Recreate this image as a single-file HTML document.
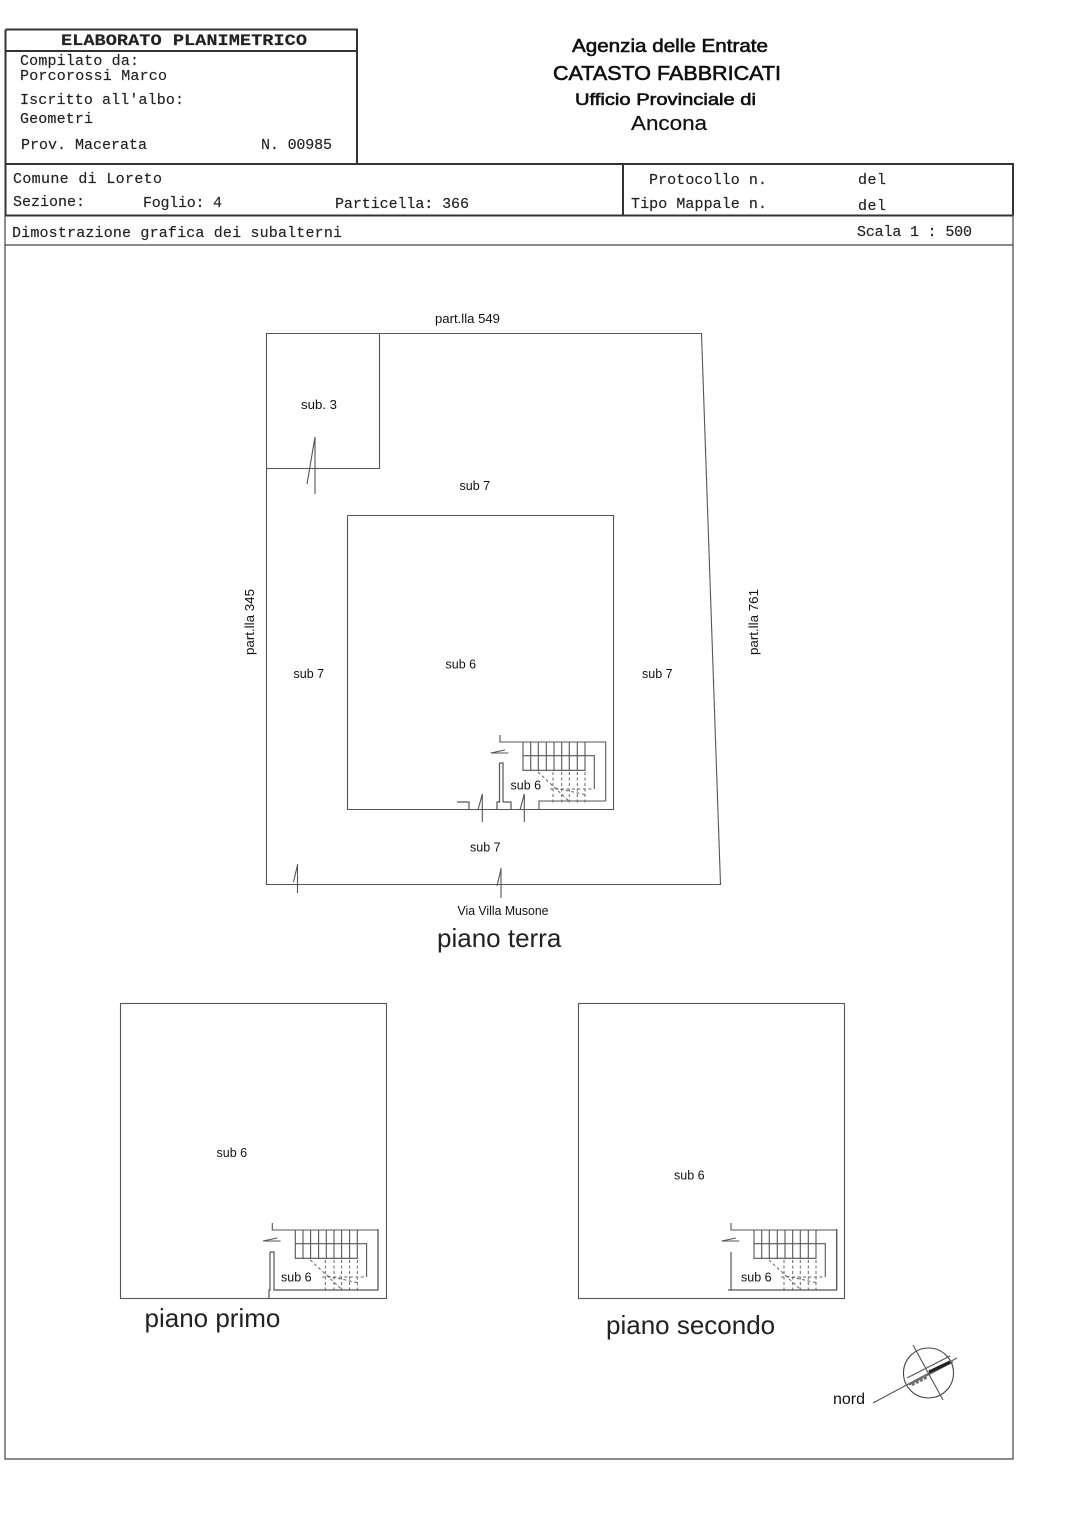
<!DOCTYPE html>
<html><head><meta charset="utf-8"><style>
html,body{margin:0;padding:0;background:#fff}
svg{display:block}
.m{font-family:"Liberation Mono",monospace;font-size:15px;fill:#222;stroke:#222;stroke-width:.15}
.s{font-family:"Liberation Sans",sans-serif;font-size:12.5px;fill:#111}
.h{font-family:"Liberation Sans",sans-serif;fill:#111;stroke:#111;stroke-width:.6}
.big{font-family:"Liberation Sans",sans-serif;font-size:26px;fill:#222}
.l{fill:none;stroke:#555;stroke-width:1.1}
.d{fill:none;stroke:#666;stroke-width:1;stroke-dasharray:3 2.5}
.f{fill:none;stroke:#333;stroke-width:2}
.t{fill:none;stroke:#555;stroke-width:1.2}
</style></head><body>
<svg width="1085" height="1535" viewBox="0 0 1085 1535" xmlns="http://www.w3.org/2000/svg">
<defs>
<g id="stair">
 <path class="l" d="M523 742V771M530.7 742V771M538.3 742V771M546.3 742V771M554 742V771M561.7 742V771M569.3 742V771M577.3 742V771M585 742V771"/>
 <path class="l" d="M523 755.7H594.3V789"/>
 <path class="t" d="M523 770.3H585"/>
 <path class="d" d="M553 772V803M561.7 772V803M569.3 772V803M577.3 772V803M585 772V804"/>
 <path class="d" d="M538 772L570 802M550 789H594M555 788L587 795"/>
 <path class="l" d="M500 735V742H605.7V801"/>
 <path class="l" d="M490.7 753H508.3M490.7 753L505 750"/>
</g>
</defs>

<!-- title block frame -->
<path class="f" d="M5.5 29.5H357V164M5.5 29.5V215.5M5.5 51H357M5.5 164H1013V215.5M5.5 215.5H1013M623 164V215.5" />
<path fill="none" stroke="#444" stroke-width="1.2" d="M5 215V1459H1013V215M5 245H1013"/>

<text class="m" x="61" y="45" textLength="246" lengthAdjust="spacingAndGlyphs" style="font-weight:bold;font-size:16px">ELABORATO PLANIMETRICO</text>
<text class="m" x="20" y="65" textLength="119">Compilato da:</text>
<text class="m" x="20" y="80" textLength="147">Porcorossi Marco</text>
<text class="m" x="20" y="104" textLength="164">Iscritto all'albo:</text>
<text class="m" x="20" y="123" textLength="73">Geometri</text>
<text class="m" x="21" y="149" textLength="126">Prov. Macerata</text>
<text class="m" x="261" y="149" textLength="71">N. 00985</text>
<text class="m" x="13" y="183" textLength="149">Comune di Loreto</text>
<text class="m" x="13" y="206" textLength="72">Sezione:</text>
<text class="m" x="143" y="207" textLength="79">Foglio: 4</text>
<text class="m" x="335" y="208" textLength="134">Particella: 366</text>
<text class="m" x="649" y="184" textLength="118">Protocollo n.</text>
<text class="m" x="858" y="184" textLength="28">del</text>
<text class="m" x="631" y="208" textLength="136">Tipo Mappale n.</text>
<text class="m" x="858" y="210" textLength="28">del</text>
<text class="m" x="12" y="237" textLength="330">Dimostrazione grafica dei subalterni</text>
<text class="m" x="857" y="236" textLength="115">Scala 1 : 500</text>

<text class="h" x="572" y="52" font-size="18.5" textLength="196" lengthAdjust="spacingAndGlyphs">Agenzia delle Entrate</text>
<text class="h" x="553" y="80" font-size="20.5" textLength="228" lengthAdjust="spacingAndGlyphs">CATASTO FABBRICATI</text>
<text class="h" x="575" y="105" font-size="17" textLength="181" lengthAdjust="spacingAndGlyphs">Ufficio Provinciale di</text>
<text class="h" x="631" y="130" font-size="20.5" textLength="76" lengthAdjust="spacingAndGlyphs" style="stroke-width:.2">Ancona</text>

<!-- site -->
<path class="l" d="M266.5 333.5H701.5L720.5 884.5H266.5Z"/>
<path class="l" d="M379.5 333.5V468.5H266.5"/>
<path class="l" d="M315 437V494M315 437L307 484"/>
<path class="l" d="M297.5 864V893M297.5 865L293.5 882"/>
<path class="l" d="M501 868V898M501 869L497 886"/>

<!-- ground floor building -->
<path class="l" d="M347.5 515.5H613.5V809.5H539V801H605.7M347.5 515.5V809.5H539"/>
<use href="#stair"/>
<path class="t" d="M499.5 763H503V802M499.5 763V802H497V810M503 802H511V810M457 802H469V810"/>
<path class="l" d="M482.3 794V822M482.3 794L478 810M524.3 794V822M524.3 794L520 810"/>

<text class="s" x="435" y="323" textLength="65" lengthAdjust="spacingAndGlyphs">part.lla 549</text>
<text class="s" x="301" y="409" textLength="36" lengthAdjust="spacingAndGlyphs">sub. 3</text>
<text class="s" x="459.5" y="490">sub 7</text>
<text class="s" x="293.5" y="678">sub 7</text>
<text class="s" x="642" y="678">sub 7</text>
<text class="s" x="445.5" y="668.5">sub 6</text>
<text class="s" x="510.5" y="789.5">sub 6</text>
<text class="s" x="470" y="851.5">sub 7</text>
<text class="s" x="457.5" y="915" textLength="91" lengthAdjust="spacingAndGlyphs">Via Villa Musone</text>
<text class="s" transform="translate(254 655) rotate(-90)" textLength="66" lengthAdjust="spacingAndGlyphs">part.lla 345</text>
<text class="s" transform="translate(758 655) rotate(-90)" textLength="66" lengthAdjust="spacingAndGlyphs">part.lla 761</text>
<text class="big" x="437" y="947">piano terra</text>

<!-- first floor -->
<rect class="l" x="120.5" y="1003.5" width="266" height="295"/>
<use href="#stair" transform="translate(-227.7 488)"/>
<path class="t" d="M270 1252H274V1290H378V1229M270 1252V1290H269V1298"/>
<text class="s" x="216.5" y="1157">sub 6</text>
<text class="s" x="281" y="1281.5">sub 6</text>
<text class="big" x="144.5" y="1327">piano primo</text>

<!-- second floor -->
<rect class="l" x="578.5" y="1003.5" width="266" height="295"/>
<use href="#stair" transform="translate(231 488)"/>
<path class="t" d="M731 1252V1290H836.7V1229M728 1290H731"/>
<text class="s" x="674" y="1179.5">sub 6</text>
<text class="s" x="741" y="1281.5">sub 6</text>
<text class="big" x="606" y="1334">piano secondo</text>

<!-- north -->
<circle cx="928.5" cy="1373" r="25" fill="none" stroke="#444" stroke-width="1.1"/>
<path class="l" d="M913 1345L943 1400M873 1403L957 1358"/>
<path class="l" d="M907 1378L950 1356M909 1385L953 1362"/>
<path fill="none" stroke="#222" stroke-width="3" d="M929 1372L950 1362"/>
<path fill="none" stroke="#777" stroke-width="2.5" stroke-dasharray="3 1.5" d="M912 1385L928 1377"/>
<text class="s" x="833" y="1404" style="font-size:16px">nord</text>
</svg>
</body></html>
